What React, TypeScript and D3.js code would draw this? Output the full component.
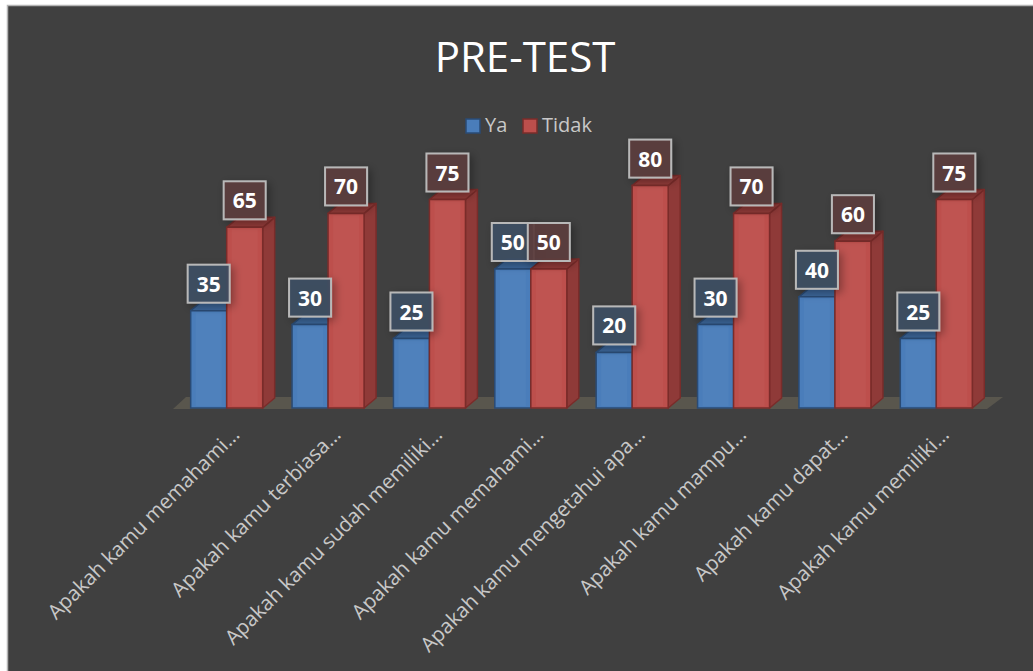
import React from "react";
import * as d3 from "d3";

const categories = [
  "Apakah kamu memahami…",
  "Apakah kamu terbiasa…",
  "Apakah kamu sudah memiliki…",
  "Apakah kamu memahami… ",
  "Apakah kamu mengetahui apa…",
  "Apakah kamu mampu…",
  "Apakah kamu dapat…",
  "Apakah kamu memiliki…",
];
const seriesNames = ["Ya", "Tidak"];
const yaValues = [35, 30, 25, 50, 20, 30, 40, 25];
const tidakValues = [65, 70, 75, 50, 80, 70, 60, 75];
const title = "PRE-TEST";

const W = 1033;
const H = 671;
const FONT = "'Open Sans', 'Noto Sans', sans-serif";
const DX = 12;
const DY = -10;

const palette: Record<string, { front: string; side: string; top: string; edge: string; label: string }> = {
  Ya: { front: "#4a7dba", side: "#3a6397", top: "#3c6699", edge: "#2a4b75", label: "#3e4e63" },
  Tidak: { front: "#bd4f4c", side: "#8f3a38", top: "#923b39", edge: "#7a2c2a", label: "#5c3d3d" },
};

export default function App() {
  const x = d3.scaleBand<string>().domain(categories).range([176, 987]).padding(0);
  const xs = d3.scaleBand<string>().domain(seriesNames).range([0, x.bandwidth()]).paddingInner(0).paddingOuter(0.408);
  const y = d3.scaleLinear().domain([0, 100]).range([408, 130]);
  const y0 = y(0);
  const values: Record<string, number[]> = { Ya: yaValues, Tidak: tidakValues };

  const floorLeft = x.range()[0] - 3;
  const floorRight = x.range()[1];

  const bars: JSX.Element[] = [];
  const labels: JSX.Element[] = [];
  categories.forEach((c, i) => {
    seriesNames.forEach((s) => {
      const v = values[s][i];
      const x0 = (x(c) as number) + (xs(s) as number);
      const bw = xs.bandwidth();
      const yt = y(v);
      const col = palette[s];
      const front = `M${x0},${yt}H${x0 + bw}V${y0}H${x0}Z`;
      const top = `M${x0},${yt}L${x0 + DX},${yt + DY}H${x0 + bw + DX}L${x0 + bw},${yt}Z`;
      const side = `M${x0 + bw},${yt}L${x0 + bw + DX},${yt + DY}V${y0 + DY}L${x0 + bw},${y0}Z`;
      bars.push(
        <g key={`b${i}${s}`}>
          <path d={side} fill={col.side} stroke={col.edge} strokeWidth={1.5} strokeLinejoin="round" />
          <path d={top} fill={col.top} stroke={col.edge} strokeWidth={1.5} strokeLinejoin="round" />
          <path d={front} fill={col.front} stroke={col.edge} strokeWidth={1.5} />
          <rect x={x0 + 5} y={yt + 2} width={bw - 10} height={y0 - yt - 4} fill="#ffffff" opacity={0.03} />
        </g>
      );
      const cx = x0 + bw / 2;
      const bh = 38;
      const bwl = 42;
      const by = yt - 8 - bh;
      labels.push(
        <g key={`l${i}${s}`}>
          <rect x={cx - bwl / 2} y={by} width={bwl} height={bh} fill={col.label} fillOpacity={0.92} stroke="#b8b8b8" strokeWidth={2} filter="url(#shadow)" />
          <text x={cx} y={by + bh / 2 + 8} textAnchor="middle" fill="#ffffff" fontFamily={FONT} fontWeight={700} fontSize={21}>
            {v}
          </text>
        </g>
      );
    });
  });

  return (
    <div style={{ position: "absolute", left: 0, top: 0 }}>
      <svg width={W} height={H} style={{ display: "block" }}>
        <defs>
          <filter id="shadow" x="-50%" y="-50%" width="200%" height="200%">
            <feDropShadow dx={3} dy={3} stdDeviation={4} floodColor="#000" floodOpacity={0.35} />
          </filter>
        </defs>
        <rect x={0} y={0} width={W} height={H} fill="#ffffff" />
        <rect x={7.5} y={5.5} width={W + 40} height={H + 40} fill="#404040" stroke="#b4b4b4" strokeWidth={1.5} />
        <text x={525} y={72} textAnchor="middle" fill="#ffffff" fontFamily={FONT} fontSize={42}>
          {title}
        </text>
        {/* legend */}
        {seriesNames.map((s, i) => {
          const lx = i === 0 ? 466 : 523;
          return (
            <g key={s}>
              <rect x={lx} y={119} width={14} height={14} fill={palette[s].front} stroke={palette[s].edge} strokeWidth={1.5} />
              <text x={lx + 19} y={132} fill="#c8c8c8" fontFamily={FONT} fontSize={20}>
                {s}
              </text>
            </g>
          );
        })}
        {/* floor */}
        <path
          d={`M${floorLeft},${y0 + 1}L${floorLeft + DX + 1},${y0 + DY - 1}H${floorRight + DX + 4}L${floorRight},${y0 + 1}Z`}
          fill="#59564d"
        />
        {bars}
        {labels}
        {categories.map((c, i) => {
          const cx = (x(c) as number) + x.bandwidth() / 2;
          return (
            <text
              key={`c${i}`}
              transform={`translate(${cx + 14},${436}) rotate(-45)`}
              textAnchor="end"
              fill="#c8c8c8"
              fontFamily={FONT}
              fontSize={20.5}
            >
              {c.trim()}
            </text>
          );
        })}
      </svg>
    </div>
  );
}
